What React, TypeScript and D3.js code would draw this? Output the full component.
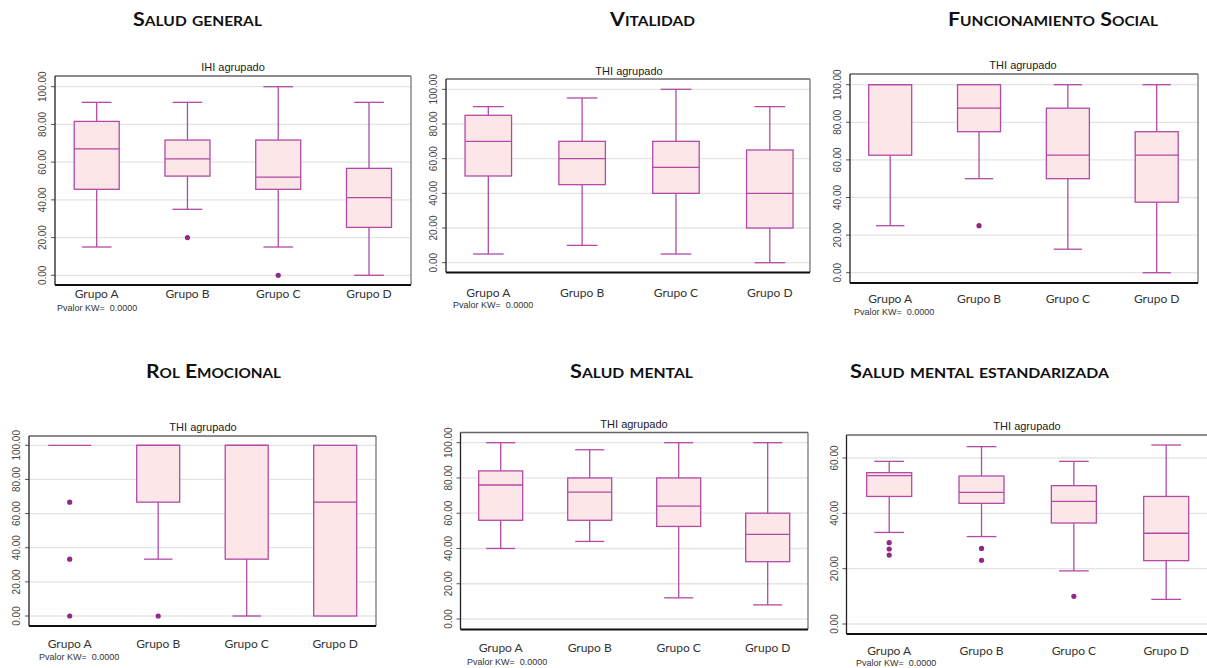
import React from "react";
import * as d3 from "d3";

// ---------- data ----------
const groups = ["Grupo A", "Grupo B", "Grupo C", "Grupo D"];
const ticks100 = [0, 20, 40, 60, 80, 100];
const ticks60 = [0, 20, 40, 60];
const pvalorText = "Pvalor KW=  0.0000";

// five-number summaries per group: [low whisker, Q1, median, Q3, high whisker]
const saludGeneral = [
  [15, 45.6, 67, 81.6, 91.7],
  [35, 52.6, 61.7, 71.7, 91.7],
  [15, 45.6, 52.1, 71.7, 100],
  [0, 25.4, 41.2, 56.7, 91.7],
];
const saludGeneralOut = [[], [20], [0], []];

const vitalidad = [
  [5, 50, 70, 85, 90],
  [10, 45, 60, 70, 95],
  [5, 40, 55, 70, 100],
  [0, 20, 40, 65, 90],
];
const vitalidadOut = [[], [], [], []];

const funcionamientoSocial = [
  [25, 62.5, 100, 100, 100],
  [50, 75, 87.5, 100, 100],
  [12.5, 50, 62.5, 87.5, 100],
  [0, 37.5, 62.5, 75, 100],
];
const funcionamientoSocialOut = [[], [25], [], []];

const rolEmocional = [
  [100, 100, 100, 100, 100],
  [33.3, 66.7, 100, 100, 100],
  [0, 33.3, 100, 100, 100],
  [0, 0, 66.7, 100, 100],
];
const rolEmocionalOut = [[66.7, 33.3, 0], [0], [], []];

const saludMental = [
  [40, 56, 76, 84, 100],
  [44, 56, 72, 80, 96],
  [12, 52.5, 64, 80, 100],
  [8, 32.5, 48, 60, 100],
];
const saludMentalOut = [[], [], [], []];

const saludMentalEst = [
  [33.1, 46.1, 53.6, 54.7, 58.8],
  [31.6, 43.6, 47.6, 53.5, 64.1],
  [19.2, 36.5, 44.3, 50.0, 58.8],
  [8.9, 22.9, 32.8, 46.1, 64.7],
];
const saludMentalEstOut = [[29.4, 27.1, 24.9], [27.3, 23.0], [10], []];

// ---------- layout ----------
const panels = [
  {
    title: "Salud general", sub: "IHI agrupado", data: saludGeneral, out: saludGeneralOut,
    l: 55, t: 76, r: 411, b: 285, y0: 275.3, yTop: 86.7, top: 100, ticks: ticks100,
    x1: 96.7, x4: 369, bw: 45, tx: 197.5, ty: 26, tw: 129, sx: 233, sy: 71, ly: 298, px: 57, py: 311,
  },
  {
    title: "Vitalidad", sub: "THI agrupado", data: vitalidad, out: vitalidadOut,
    l: 446, t: 79, r: 810, b: 272.5, y0: 262.7, yTop: 89.3, top: 100, ticks: ticks100,
    x1: 488.3, x4: 769.8, bw: 46.5, tx: 652.5, ty: 26, tw: 85, sx: 629, sy: 75, ly: 297, px: 453, py: 308,
  },
  {
    title: "Funcionamiento Social", sub: "THI agrupado", data: funcionamientoSocial, out: funcionamientoSocialOut,
    l: 850, t: 74, r: 1198, b: 283, y0: 272.7, yTop: 84.7, top: 100, ticks: ticks100,
    x1: 890.2, x4: 1156.7, bw: 43, tx: 1053, ty: 26, tw: 210, sx: 1023, sy: 69, ly: 303, px: 854, py: 315,
  },
  {
    title: "Rol Emocional", sub: "THI agrupado", data: rolEmocional, out: rolEmocionalOut,
    l: 29, t: 436, r: 376, b: 626, y0: 616, yTop: 445.3, top: 100, ticks: ticks100,
    x1: 69.7, x4: 335.2, bw: 43, tx: 213.5, ty: 378, tw: 135, sx: 203, sy: 431, ly: 648, px: 39, py: 660,
  },
  {
    title: "Salud mental", sub: "THI agrupado", data: saludMental, out: saludMentalOut,
    l: 460.5, t: 432.5, r: 808, b: 629.5, y0: 619, yTop: 442.7, top: 100, ticks: ticks100,
    x1: 500.7, x4: 767.7, bw: 44, tx: 631.5, ty: 378, tw: 123, sx: 634, sy: 428, ly: 652, px: 467, py: 665,
  },
  {
    title: "Salud mental estandarizada", sub: "THI agrupado", data: saludMentalEst, out: saludMentalEstOut,
    l: 846.5, t: 435, r: 1212, b: 634, y0: 624, yTop: 458, top: 60, ticks: ticks60,
    x1: 889.2, x4: 1166.2, bw: 45, tx: 979.5, ty: 378, tw: 259, sx: 1027, sy: 430, ly: 655, px: 856, py: 666,
  },
];

const STROKE = "#b24aa6";
const FILL = "#fde6e8";
const DOT = "#8e2a82";
const GRID = "#e4e4e4";
const fmt = d3.format(".2f");

function Panel({ p }: { p: any }) {
  const y = d3.scaleLinear().domain([0, p.top]).range([p.y0, p.yTop]);
  const x = d3.scalePoint<string>().domain(groups).range([p.x1, p.x4]);
  const cap = p.bw * 0.66;
  return (
    <g>
      <text
        x={p.tx} y={p.ty} textAnchor="middle" fontFamily="Lato, 'Open Sans', sans-serif"
        fontWeight="bold" fontSize={18} style={{ fontVariant: "small-caps" }} fill="#111"
        textLength={p.tw} lengthAdjust="spacingAndGlyphs"
      >
        {p.title}
      </text>
      <text x={p.sx} y={p.sy} textAnchor="middle" fontFamily="Liberation Sans, Arial, sans-serif" fontSize={11} fill="#222">
        {p.sub}
      </text>
      {/* gridlines */}
      {p.ticks.map((v: number) => (
        <g key={v}>
          <line x1={p.l} x2={p.r} y1={y(v)} y2={y(v)} stroke={GRID} strokeWidth={1.3} />
          <line x1={p.l - 4} x2={p.l} y1={y(v)} y2={y(v)} stroke="#555" strokeWidth={1} />
          <text
            transform={`translate(${p.l - 9},${y(v)}) rotate(-90)`}
            textAnchor="middle" fontFamily="Liberation Sans, Arial, sans-serif" fontSize={10} fill="#444"
          >
            {fmt(v)}
          </text>
        </g>
      ))}
      {/* frame */}
      <line x1={p.l} x2={p.r} y1={p.t} y2={p.t} stroke="#666" strokeWidth={1.3} />
      <line x1={p.r} x2={p.r} y1={p.t} y2={p.b} stroke="#777" strokeWidth={1.3} />
      <line x1={p.l} x2={p.l} y1={p.t} y2={p.b} stroke="#222" strokeWidth={1.3} />
      <line x1={p.l} x2={p.r} y1={p.b} y2={p.b} stroke="#111" strokeWidth={2.2} />
      {/* boxes */}
      {p.data.map((d: number[], i: number) => {
        const cx = x(groups[i]) as number;
        const [lo, q1, md, q3, hi] = d;
        return (
          <g key={i}>
            {hi > q3 && (
              <>
                <line x1={cx} x2={cx} y1={y(q3)} y2={y(hi)} stroke={STROKE} strokeWidth={1.3} />
                <line x1={cx - cap / 2} x2={cx + cap / 2} y1={y(hi)} y2={y(hi)} stroke={STROKE} strokeWidth={1.3} />
              </>
            )}
            {lo < q1 && (
              <>
                <line x1={cx} x2={cx} y1={y(q1)} y2={y(lo)} stroke={STROKE} strokeWidth={1.3} />
                <line x1={cx - cap / 2} x2={cx + cap / 2} y1={y(lo)} y2={y(lo)} stroke={STROKE} strokeWidth={1.3} />
              </>
            )}
            <rect
              x={cx - p.bw / 2} y={y(q3)} width={p.bw} height={Math.max(0, y(q1) - y(q3))}
              fill={FILL} stroke={STROKE} strokeWidth={1.3}
            />
            <line x1={cx - p.bw / 2} x2={cx + p.bw / 2} y1={y(md)} y2={y(md)} stroke={STROKE} strokeWidth={1.3} />
            {p.out[i].map((o: number, j: number) => (
              <circle key={j} cx={cx} cy={y(o)} r={2.6} fill={DOT} />
            ))}
          </g>
        );
      })}
      {groups.map((g) => (
        <text
          key={g} x={x(g)} y={p.ly} textAnchor="middle" fontFamily="Lato, 'Open Sans', sans-serif"
          fontSize={12} fill="#333"
        >
          {g}
        </text>
      ))}
      <text x={p.px} y={p.py} fontFamily="Liberation Sans, Arial, sans-serif" fontSize={9} fill="#333" style={{ whiteSpace: "pre" }}>
        {pvalorText}
      </text>
    </g>
  );
}

export default function App() {
  return (
    <svg
      width={1207} height={668} viewBox="0 0 1207 668"
      style={{ position: "absolute", left: 0, top: 0, background: "#fff" }}
    >
      <rect x={0} y={0} width={1207} height={668} fill="#fff" />
      {panels.map((p, i) => (
        <Panel key={i} p={p} />
      ))}
    </svg>
  );
}
